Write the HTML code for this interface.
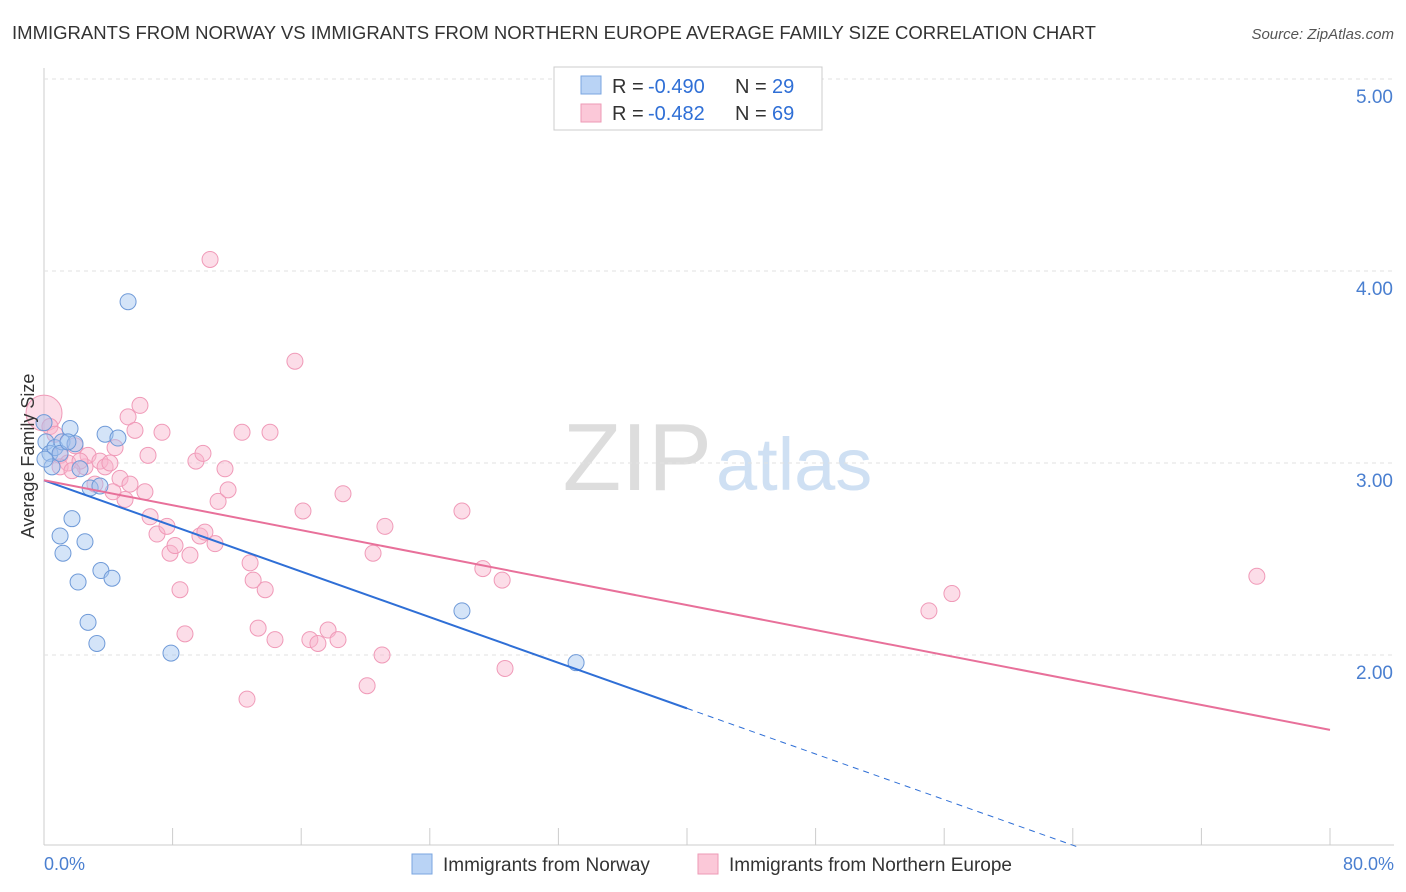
<!DOCTYPE html>
<html><head><meta charset="utf-8"><style>
body{margin:0;background:#fff;font-family:"Liberation Sans",sans-serif;overflow:hidden;}
svg text{font-family:"Liberation Sans",sans-serif;}
</style></head><body>
<svg id="c" width="1406" height="892" style="display:block">
<text x="12" y="39" font-size="18" fill="#333" textLength="1084" lengthAdjust="spacingAndGlyphs">IMMIGRANTS FROM NORWAY VS IMMIGRANTS FROM NORTHERN EUROPE AVERAGE FAMILY SIZE CORRELATION CHART</text>
<text x="1394" y="39" font-size="15" fill="#555" font-style="italic" text-anchor="end">Source: ZipAtlas.com</text>
<text x="712" y="490" font-size="96" fill="#ddd" text-anchor="end" font-family="Liberation Serif">ZIP</text>
<text x="716" y="490" font-size="74" fill="#cfe0f3">atlas</text>
<g id="grid"></g><g id="pts"></g><g id="lines"></g>
<text transform="translate(34,456) rotate(-90)" font-size="18" fill="#333" text-anchor="middle">Average Family Size</text>
<text x="44" y="870" font-size="18" fill="#4a7fd0">0.0%</text>
<text x="1394" y="870" font-size="18" fill="#4a7fd0" text-anchor="end">80.0%</text>
<g>
<rect x="554" y="67" width="268" height="63" fill="#fff" stroke="#ccc"/>
<rect x="581" y="76" width="20" height="18" fill="#b9d3f5" stroke="#7aa6e0"/>
<rect x="581" y="104" width="20" height="18" fill="#fbc8d8" stroke="#ee9ab6"/>
<text x="612" y="93" font-size="20" fill="#333">R =</text>
<text x="648" y="93" font-size="20" fill="#2f6fd6">-0.490</text>
<text x="735" y="93" font-size="20" fill="#333">N =</text>
<text x="772" y="93" font-size="20" fill="#2f6fd6">29</text>
<text x="612" y="120" font-size="20" fill="#333">R =</text>
<text x="648" y="120" font-size="20" fill="#2f6fd6">-0.482</text>
<text x="735" y="120" font-size="20" fill="#333">N =</text>
<text x="772" y="120" font-size="20" fill="#2f6fd6">69</text>
</g>
<g>
<rect x="412" y="854" width="20" height="20" fill="#b9d3f5" stroke="#7aa6e0"/>
<text x="443" y="871" font-size="19" fill="#333">Immigrants from Norway</text>
<rect x="698" y="854" width="20" height="20" fill="#fbc8d8" stroke="#ee9ab6"/>
<text x="729" y="871" font-size="19" fill="#333">Immigrants from Northern Europe</text>
</g>
</svg>
<script>
const yTicks=[2,3,4,5];
const yTickLabels=["2.00","3.00","4.00","5.00"];
const xTicks=[0,8,16,24,32,40,48,56,64,72,80];
const blueX=[0,0.12,0.37,0.68,1.12,1.62,1.93,0.5,1,1.18,1.74,2.12,2.55,2.74,2.87,3.29,3.48,3.54,4.23,3.8,4.6,5.23,7.9,26,33.1,1,2.24,0.06,1.49];
const blueY=[3.21,3.11,3.05,3.08,3.11,3.18,3.1,2.98,2.62,2.53,2.71,2.38,2.59,2.17,2.87,2.06,2.88,2.44,2.4,3.15,3.13,3.84,2.01,2.23,1.96,3.05,2.97,3.02,3.11];
const pinkX=[0,0.37,0.68,1,1.49,1.93,2.55,2.74,3.48,3.8,4.1,4.42,4.73,5.04,5.23,5.66,5.97,6.28,6.6,6.47,7.03,7.34,7.65,7.84,8.15,8.46,8.77,9.08,9.45,9.7,9.89,10.01,10.33,10.64,10.83,11.26,11.45,12.32,12.82,13.01,13.32,13.76,14.06,14.37,15.61,16.11,16.54,17.04,17.67,18.29,18.6,20.1,20.47,21.03,21.21,26,27.3,28.5,28.68,12.63,55.05,56.48,75.45,1,2.24,3.17,4.29,5.35,1.74];
const pinkY=[3.26,3.19,3.15,3.04,3,3.09,2.98,3.04,3.01,2.98,3,3.08,2.92,2.81,3.24,3.17,3.3,2.85,2.72,3.04,2.63,3.16,2.67,2.53,2.57,2.34,2.11,2.52,3.01,2.62,3.05,2.64,4.06,2.58,2.8,2.97,2.86,3.16,2.48,2.39,2.14,2.34,3.16,2.08,3.53,2.75,2.08,2.06,2.13,2.08,2.84,1.84,2.53,2,2.67,2.75,2.45,2.39,1.93,1.77,2.23,2.32,2.41,2.98,3.01,2.89,2.85,2.89,2.96];
const pinkR=[18];
const blueFit=[2.91,-0.0297];
const pinkFit=[2.91,-0.01625];
const X=v=>44+v/80*1286, Y=v=>655-(v-2)*192;
const ns="http://www.w3.org/2000/svg";
function mk(t,a,p){const e=document.createElementNS(ns,t);for(const k in a)e.setAttribute(k,a[k]);p.appendChild(e);return e;}
const g=document.getElementById('grid');
mk('line',{x1:44,y1:68,x2:44,y2:845,stroke:'#ccc'},g);
mk('line',{x1:44,y1:845,x2:1394,y2:845,stroke:'#ccc'},g);
yTicks.forEach((t,i)=>{
 const l=mk('line',{x1:44,y1:Y(t),x2:1394,y2:Y(t),stroke:'#e2e2e2','stroke-dasharray':'4,4'},g);
 
 
 const tx=mk('text',{x:1393,y:Y(t)+24,'font-size':19,fill:'#4a7fd0','text-anchor':'end'},g);tx.textContent=yTickLabels[i];
 
 
});
xTicks.forEach(t=>{const l=mk('line',{x1:X(t),y1:828,x2:X(t),y2:845,stroke:'#ccc'},g);
 
 });
const p=document.getElementById('pts');
pinkX.forEach((x,i)=>{const c=mk('circle',{cx:X(x),cy:Y(pinkY[i]),r:i==0?pinkR[0]:8,fill:'rgba(248,180,204,0.45)',stroke:'#f09ab8','stroke-width':1},p);
 
 });
blueX.forEach((x,i)=>{const c=mk('circle',{cx:X(x),cy:Y(blueY[i]),r:8,fill:'rgba(160,196,240,0.45)',stroke:'#6f9ad8','stroke-width':1},p);
 
 });
const L=document.getElementById('lines');
const xEnd=(1-blueFit[0])/blueFit[1];
let l=mk('line',{x1:X(0),y1:Y(blueFit[0]),x2:X(40),y2:Y(blueFit[0]+blueFit[1]*40),stroke:'#2f6fd6','stroke-width':2},L);


l=mk('line',{x1:X(40),y1:Y(blueFit[0]+blueFit[1]*40),x2:X(xEnd),y2:Y(1),stroke:'#2f6fd6','stroke-width':1,'stroke-dasharray':'6,5'},L);


l=mk('line',{x1:X(0),y1:Y(pinkFit[0]),x2:X(80),y2:Y(pinkFit[0]+pinkFit[1]*80),stroke:'#e8709a','stroke-width':2},L);


</script>
</body></html>
